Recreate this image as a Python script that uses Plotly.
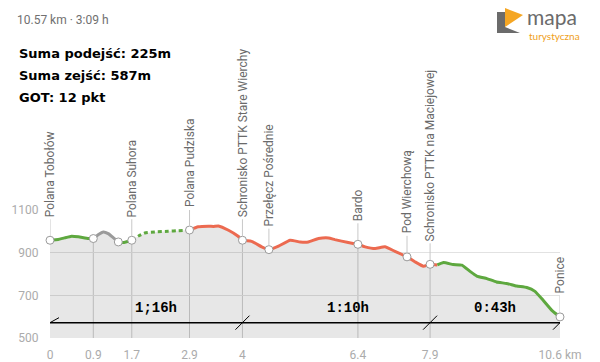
import plotly.graph_objects as go

# ---------------- data ----------------
dist_km = [0.00, 0.17, 0.30, 0.45, 0.59, 0.80, 0.90, 1.00, 1.11, 1.21, 1.32, 1.42, 1.52, 1.70,
           1.84, 1.97, 2.18, 2.46, 2.67, 2.90, 3.08, 3.29, 3.40, 3.50, 3.71, 3.91, 4.00, 4.19,
           4.40, 4.55, 4.75, 4.99, 5.20, 5.37, 5.58, 5.79, 5.92, 6.20, 6.40, 6.55, 6.76, 6.96,
           7.17, 7.42, 7.59, 7.76, 7.90, 8.05, 8.18, 8.38, 8.56, 8.73, 8.87, 9.08, 9.28, 9.49,
           9.70, 9.91, 10.08, 10.25, 10.43, 10.60]
elev_m = [959, 962, 970, 978, 975, 967, 967, 985, 998, 990, 970, 951, 948, 959,
          979, 993, 998, 1001, 1004, 1007, 1022, 1025, 1024, 1026, 1006, 978, 959, 954,
          928, 915, 931, 959, 951, 951, 967, 970, 962, 948, 940, 928, 920, 928,
          907, 881, 857, 837, 846, 843, 854, 845, 842, 813, 791, 779, 763, 756,
          744, 737, 719, 677, 630, 599]

# trail segments: (start km, end km, trail colour key, dash)
seg_start = [0.00, 0.90, 1.42, 1.70, 2.90, 8.05]
seg_end = [0.90, 1.42, 1.70, 2.90, 8.05, 10.60]
seg_trail = ["green", "gray", "green", "green", "red", "green"]
seg_dash = ["solid", "solid", "solid", "4px,3px", "solid", "solid"]

# waypoints
wp_km = [0.00, 0.90, 1.42, 1.70, 2.90, 4.00, 4.55, 6.40, 7.42, 7.90, 10.60]
wp_elev = [959, 967, 951, 959, 1007, 959, 915, 940, 881, 846, 599]
wp_name = ["Polana Tobołów", None, None, "Polana Suhora", "Polana Pudziska",
           "Schronisko PTTK Stare Wierchy", "Przełęcz Pośrednie", "Bardo",
           "Pod Wierchową", "Schronisko PTTK na Maciejowej", "Ponice"]

tick_km = [0, 0.9, 1.7, 2.9, 4, 6.4, 7.9, 10.6]
tick_text = ["0", "0.9", "1.7", "2.9", "4", "6.4", "7.9", "10.6 km"]
y_ticks = [500, 700, 900, 1100]

# time sections
time_bounds = [0, 4, 7.9, 10.6]
time_labels = ["1;16h", "1:10h", "0:43h"]
time_label_shift = [10, 12, 0]
time_line_elev = 572

header_text = "10.57 km · 3:09 h"
summary_lines = ["Suma podejść: 225m", "Suma zejść: 587m", "GOT: 12 pkt"]

# ---------------- style ----------------
colors = {"green": "#5ea83f", "gray": "#9a9a9a", "red": "#ec6a50"}
W, H = 600, 362
ML, MR, MT, MB = 50, 40, 210, 24
PW, PH = W - ML - MR, H - MT - MB


def px(x):
    return (x - ML) / PW


def py(y):
    return (H - MB - y) / PH


fig = go.Figure()

# fill area
fig.add_trace(go.Scatter(x=dist_km, y=elev_m, mode="lines", line=dict(width=0),
                         fill="tozeroy", fillcolor="rgba(0,0,0,0.095)",
                         hoverinfo="skip", showlegend=False))

# coloured trail segments
for s, e, t, d in zip(seg_start, seg_end, seg_trail, seg_dash):
    xs = [x for x in dist_km if s - 1e-9 <= x <= e + 1e-9]
    ys = [y for x, y in zip(dist_km, elev_m) if s - 1e-9 <= x <= e + 1e-9]
    fig.add_trace(go.Scatter(x=xs, y=ys, mode="lines",
                             line=dict(color=colors[t], width=3, dash=d, shape="spline", smoothing=0.4),
                             hoverinfo="skip", showlegend=False))

shapes = []
annotations = []

# drop lines at tick positions
for k, e in zip(wp_km, wp_elev):
    if any(abs(k - t) < 1e-6 for t in tick_km) and 0 < k < 10.6:
        shapes.append(dict(type="line", xref="x", yref="y", x0=k, x1=k, y0=500, y1=e,
                           line=dict(color="#cfcfcf", width=1), layer="below"))

# connectors + labels
for k, e, n in zip(wp_km, wp_elev, wp_name):
    if n is None:
        continue
    shapes.append(dict(type="line", xref="x", yref="y", ysizemode="pixel", yanchor=e,
                       x0=k, x1=k, y0=4, y1=21, line=dict(color="#c8c8c8", width=1)))
    annotations.append(dict(x=k, y=e, xref="x", yref="y", yshift=21, text=n, textangle=-90,
                            showarrow=False, xanchor="center", yanchor="bottom",
                            font=dict(family="Roboto, Arial", size=12, color="#6a6a6a")))

# markers
fig.add_trace(go.Scatter(x=wp_km, y=wp_elev, mode="markers",
                         marker=dict(size=8, color="white", line=dict(color="#9a9a9a", width=1)),
                         hoverinfo="skip", showlegend=False, cliponaxis=False))

# time line
shapes.append(dict(type="line", xref="x", yref="y", x0=time_bounds[0], x1=time_bounds[-1],
                   y0=time_line_elev, y1=time_line_elev, line=dict(color="black", width=1.5)))
for i, b in enumerate(time_bounds):
    dx, dy = (9, 5) if i == 0 else (7, 7)
    shapes.append(dict(type="line", xref="x", yref="y", xsizemode="pixel", ysizemode="pixel",
                       xanchor=b, yanchor=time_line_elev, x0=-dx, x1=dx, y0=-dy, y1=dy,
                       line=dict(color="black", width=1)))
for i, lab in enumerate(time_labels):
    mid = (time_bounds[i] + time_bounds[i + 1]) / 2
    annotations.append(dict(x=mid, y=time_line_elev, xref="x", yref="y", yshift=15,
                            xshift=time_label_shift[i], text="<b>%s</b>" % lab, showarrow=False,
                            font=dict(family="Liberation Mono, Courier New", size=14, color="black")))

# header texts
annotations.append(dict(x=px(15), y=py(20), xref="paper", yref="paper", text=header_text,
                        showarrow=False, xanchor="left", yanchor="middle",
                        font=dict(family="Roboto, Arial", size=12, color="#707070")))
for i, line in enumerate(summary_lines):
    annotations.append(dict(x=px(17), y=py(53 + 22 * i), xref="paper", yref="paper",
                            text="<b>%s</b>" % line, showarrow=False, xanchor="left", yanchor="middle",
                            font=dict(family="DejaVu Sans", size=13, color="black")))

# logo
shapes.append(dict(type="path", xref="paper", yref="paper",
                   path="M %f %f L %f %f L %f %f L %f %f L %f %f Z" % (
                       px(497), py(12), px(505), py(12), px(505), py(27), px(520), py(33), px(497), py(33)),
                   fillcolor="#6b6b6b", line=dict(width=0)))
shapes.append(dict(type="path", xref="paper", yref="paper",
                   path="M %f %f L %f %f L %f %f Z" % (px(505), py(8), px(523), py(15), px(505), py(27)),
                   fillcolor="#f5a623", line=dict(width=0)))
annotations.append(dict(x=px(525), y=py(16), xref="paper", yref="paper", text="mapa",
                        showarrow=False, xanchor="left", yanchor="middle",
                        font=dict(family="Lato, Roboto", size=21, color="#6b6b6b")))
annotations.append(dict(x=px(527), y=py(36), xref="paper", yref="paper", text="turystyczna",
                        showarrow=False, xanchor="left", yanchor="middle",
                        font=dict(family="Lato, Roboto", size=10, color="#f0a020")))

fig.update_layout(
    width=W, height=H, margin=dict(l=ML, r=MR, t=MT, b=MB, pad=0, autoexpand=False),
    paper_bgcolor="white", plot_bgcolor="white",
    shapes=shapes, annotations=annotations, showlegend=False,
    font=dict(family="Roboto, Arial"),
)
fig.update_xaxes(range=[0, 10.6], tickvals=tick_km, ticktext=tick_text, showgrid=False,
                 zeroline=False, showline=False, ticks="outside", ticklen=6, automargin=False,
                 tickcolor="rgba(0,0,0,0)", tickfont=dict(size=12, color="#ababab"))
fig.update_yaxes(range=[500, 1101], tickvals=y_ticks, showgrid=True, gridcolor="#e2e2e2",
                 zeroline=False, showline=False, ticks="outside", ticklen=8, automargin=False,
                 tickcolor="rgba(0,0,0,0)", tickfont=dict(size=12, color="#ababab"))

fig.write_html("out.html", config={"displayModeBar": False, "staticPlot": True},
               post_script="document.body.style.margin='0';document.body.style.overflow='hidden';")
